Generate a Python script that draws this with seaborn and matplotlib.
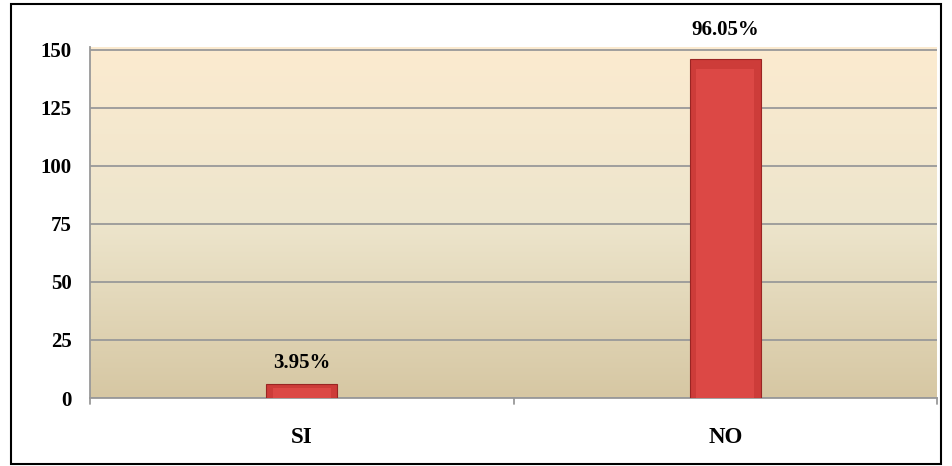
import numpy as np
import pandas as pd
import matplotlib
matplotlib.use("Agg")
import matplotlib.pyplot as plt
import seaborn as sns
from matplotlib.patches import Rectangle
from matplotlib.colors import LinearSegmentedColormap

categories = ["SI", "NO"]
counts = [6, 146]
pct_labels = ["3.95%", "96.05%"]
yticks = [0, 25, 50, 75, 100, 125, 150]

sns.set_style("white")
plt.rcParams['font.family'] = ['Liberation Serif', 'DejaVu Serif']
plt.rcParams['text.color'] = 'black'
plt.rcParams['xtick.color'] = 'black'
plt.rcParams['ytick.color'] = 'black'

df = pd.DataFrame({"cat": categories, "n": counts})

W, H = 952, 466
fig = plt.figure(figsize=(W / 100, H / 100), dpi=100)
ax = fig.add_axes([90 / W, 1 - 398 / H, (937 - 90) / W, (398 - 46.5) / H])

# background gradient
cmap = LinearSegmentedColormap.from_list("bg", ["#D6C7A3", "#EDE5CC", "#FCEBD0"])
grad = np.linspace(0, 1, 256).reshape(-1, 1)
ax.imshow(grad, aspect="auto", cmap=cmap, origin="lower",
          extent=(-0.5, 1.5, 0, 151.5), zorder=0)

grid_c = "#999999"
for t in yticks:
    ax.axhline(t, color=grid_c, lw=1.3, zorder=1)

sns.barplot(data=df, x="cat", y="n", ax=ax, color="#CD3C39",
            width=0.168, edgecolor="#9A2523", linewidth=0.8, zorder=3,
            saturation=1)

# bevel highlight
for p in ax.patches:
    x0, w, h = p.get_x(), p.get_width(), p.get_height()
    inset_y = min(h * 0.3, 4)
    ax.add_patch(Rectangle((x0 + w * 0.09, 0), w * 0.82, h - inset_y,
                           facecolor="#DC4845", edgecolor="none", zorder=4))

for i, (v, lab) in enumerate(zip(counts, pct_labels)):
    off = 19 if v > 100 else 11
    ax.annotate(lab, (i, v), xytext=(0, off), textcoords="offset pixels",
                ha="center", va="bottom", fontsize=15,
                fontweight="bold", zorder=5)

ax.set_xlim(-0.5, 1.5)
ax.set_ylim(0, 151.5)
ax.set_yticks(yticks)
ax.set_yticklabels([str(t) for t in yticks], fontsize=15, fontweight="bold")
ax.set_xticks([0, 1])
ax.set_xticklabels(categories, fontsize=16.5, fontweight="bold")
ax.set_xlabel("")
ax.set_ylabel("")
ax.tick_params(axis="y", length=5, color=grid_c, width=1.3, pad=8)
ax.tick_params(axis="x", length=0, pad=21)
for x in [-0.5, 0.5, 1.5]:
    ax.plot([x, x], [0, -2.6], color=grid_c, lw=1.3, clip_on=False, zorder=2)

for s in ["top", "right"]:
    ax.spines[s].set_visible(False)
ax.spines["left"].set_color(grid_c)
ax.spines["left"].set_linewidth(1.3)
ax.spines["bottom"].set_color(grid_c)
ax.spines["bottom"].set_linewidth(1.3)

fig.patches.append(Rectangle((10.5 / W, 1 - 463.5 / H), (941 - 10.5) / W, (463.5 - 3.5) / H,
                             transform=fig.transFigure, fill=False,
                             edgecolor="black", lw=1.5))

fig.savefig("out.png", dpi=100)
